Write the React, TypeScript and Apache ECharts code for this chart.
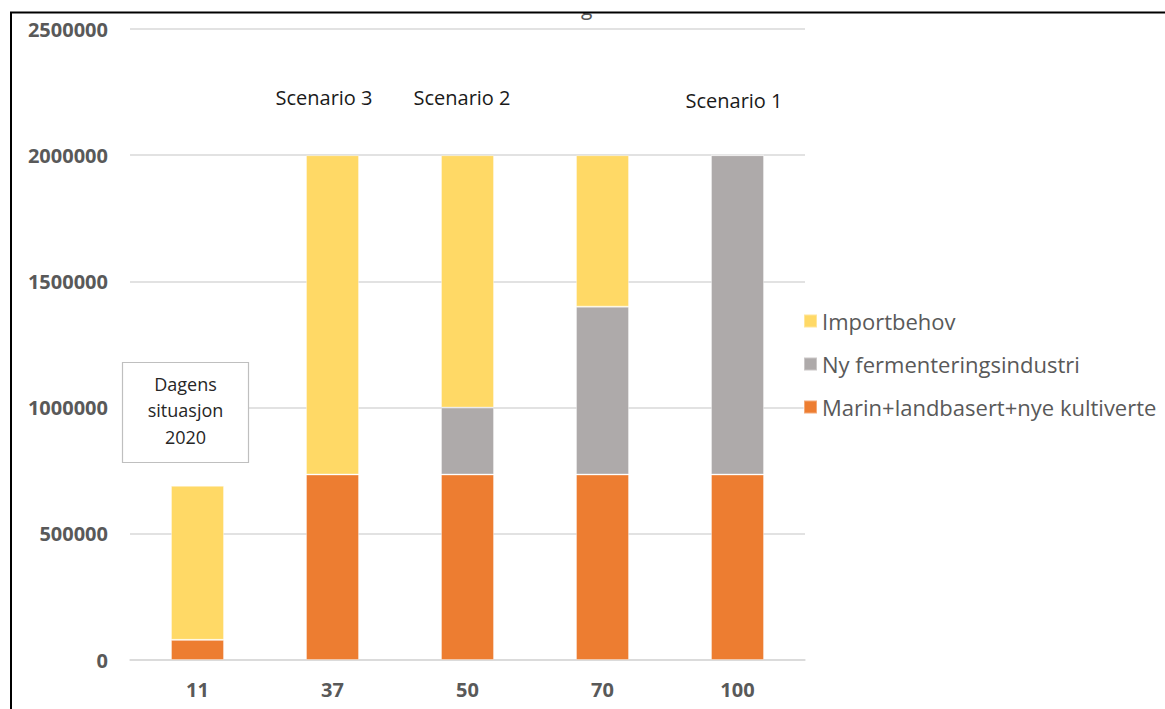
import React, { useEffect, useRef } from "react";
import * as echarts from "echarts";

// Andel (%) per kategori på x-aksen
const categories = ["11", "37", "50", "70", "100"];

// Tonn per kilde, stablet nedenfra og opp
const marinLandbasert = [80000, 735000, 735000, 735000, 735000];
const nyFermentering = [0, 0, 265000, 665000, 1265000];
const importbehov = [610000, 1265000, 1000000, 600000, 0];

const seriesNames = [
  "Marin+landbasert+nye kultiverte",
  "Ny fermenteringsindustri",
  "Importbehov",
];
const legendOrder = [
  "Importbehov",
  "Ny fermenteringsindustri",
  "Marin+landbasert+nye kultiverte",
];

const scenarioLabels = ["Scenario 3", "Scenario 2", "Scenario 1"];
const boxLines = ["Dagens", "situasjon", "2020"];

const FONT = "'Open Sans', 'Noto Sans', sans-serif";

export default function App() {
  const ref = useRef<HTMLDivElement>(null);

  useEffect(() => {
    if (!ref.current) return;
    const chart = echarts.init(ref.current, undefined, { renderer: "svg" });

    const barStyle = (color: string) => ({
      color,
      borderColor: "rgba(255,255,255,0.35)",
      borderWidth: 1,
    });

    const scenarioText = (text: string, x: number, y: number) => ({
      type: "text",
      x,
      y,
      z: 100,
      style: {
        text,
        fill: "#1a1a1a",
        fontSize: 20,
        fontFamily: FONT,
        align: "center",
        verticalAlign: "middle",
      },
    });

    chart.setOption({
      animation: false,
      backgroundColor: "#ffffff",
      textStyle: { fontFamily: FONT },
      grid: { left: 130, right: 360, top: 29, bottom: 49, containLabel: false },
      xAxis: {
        type: "category",
        data: categories,
        axisLine: { lineStyle: { color: "#d9d9d9", width: 1.5 } },
        axisTick: { show: false },
        axisLabel: {
          color: "#595959",
          fontWeight: "bold",
          fontSize: 20,
          fontFamily: FONT,
          margin: 19,
        },
      },
      yAxis: {
        type: "value",
        min: 0,
        max: 2500000,
        interval: 500000,
        axisLine: { show: false },
        axisTick: { show: false },
        splitLine: { lineStyle: { color: "#d9d9d9", width: 1.5 } },
        axisLabel: {
          color: "#595959",
          fontWeight: "bold",
          fontSize: 20,
          fontFamily: FONT,
          margin: 22,
          formatter: (v: number) => String(v),
        },
      },
      legend: {
        orient: "vertical",
        left: 798,
        top: 305,
        data: legendOrder,
        icon: "rect",
        itemWidth: 13,
        itemHeight: 13,
        itemGap: 21,
        textStyle: { color: "#595959", fontSize: 22, fontFamily: FONT },
      },
      series: [
        {
          name: seriesNames[0],
          type: "bar",
          stack: "total",
          barWidth: 53,
          data: marinLandbasert,
          itemStyle: barStyle("#ed7d31"),
        },
        {
          name: seriesNames[1],
          type: "bar",
          stack: "total",
          barWidth: 53,
          data: nyFermentering,
          itemStyle: barStyle("#aeaaaa"),
        },
        {
          name: seriesNames[2],
          type: "bar",
          stack: "total",
          barWidth: 53,
          data: importbehov,
          itemStyle: barStyle("#ffd966"),
        },
      ],
      graphic: [
        // avkuttet tittel over rammen
        {
          type: "text",
          left: 581,
          top: -4,
          z: 100,
          style: { text: "g", fill: "#595959", fontSize: 21, fontFamily: FONT },
        },
        {
          type: "rect",
          z: 101,
          shape: { x: 0, y: 0, width: 1165, height: 12 },
          style: { fill: "#ffffff" },
        },
        {
          type: "line",
          z: 102,
          shape: { x1: 10, y1: 12.5, x2: 1165, y2: 12.5 },
          style: { stroke: "#000000", lineWidth: 2 },
        },
        {
          type: "line",
          z: 102,
          shape: { x1: 11, y1: 12, x2: 11, y2: 709 },
          style: { stroke: "#000000", lineWidth: 2 },
        },
        // scenariomerker
        scenarioText(scenarioLabels[0], 324, 97),
        scenarioText(scenarioLabels[1], 462, 97),
        scenarioText(scenarioLabels[2], 734, 100),
        // tekstboks for dagens situasjon
        {
          type: "rect",
          z: 100,
          shape: { x: 122.5, y: 362.5, width: 126, height: 100 },
          style: { fill: "#ffffff", stroke: "#bfbfbf", lineWidth: 1.2 },
        },
        {
          type: "text",
          z: 101,
          x: 185.5,
          y: 410,
          style: {
            text: boxLines.join("\n"),
            fill: "#262626",
            fontSize: 18,
            lineHeight: 26.5,
            fontFamily: FONT,
            align: "center",
            verticalAlign: "middle",
          },
        },
      ],
    });

    return () => chart.dispose();
  }, []);

  return (
    <div
      ref={ref}
      style={{ position: "absolute", left: 0, top: 0, width: 1165, height: 709 }}
    />
  );
}
